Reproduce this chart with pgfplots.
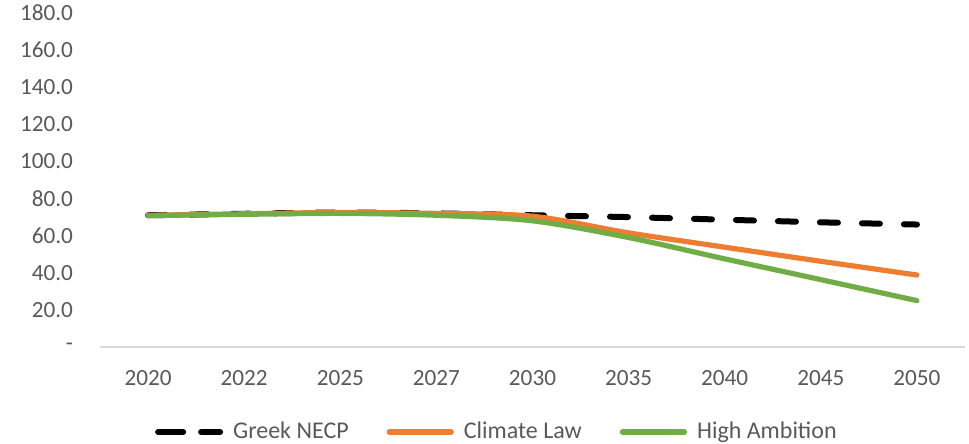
\documentclass[border=0pt]{standalone}
\usepackage{pgfplots}
\pgfplotsset{compat=1.18}
\usepackage{fontspec}
\setmainfont{Carlito}
\definecolor{cOrange}{HTML}{ED7D31}
\definecolor{cGreen}{HTML}{70AD47}
\definecolor{cText}{HTML}{595959}
\definecolor{cAxis}{HTML}{D9D9D9}
\begin{document}
\begin{tikzpicture}
\useasboundingbox (-50pt,-48.5pt) rectangle (434.5pt,173.5pt);
\begin{axis}[
  at={(0,0)}, anchor=south west,
  scale only axis, width=432.5pt, height=167pt,
  xmin=-0.5, xmax=8.5, ymin=0, ymax=180,
  xtick={0,...,8},
  xticklabels={2020,2022,2025,2027,2030,2035,2040,2045,2050},
  ytick={0,20,...,180},
  yticklabels={-,20.0,40.0,60.0,80.0,100.0,120.0,140.0,160.0,180.0},
  axis y line*=left,
  y axis line style={draw=none},
  axis x line*=bottom,
  x axis line style={draw=cAxis, line width=0.6pt, -},
  major tick length=0pt,
  tick style={draw=none},
  ticklabel style={font=\fontsize{11.6}{13}\selectfont, text=cText},
  yticklabel style={xshift=-10pt},
  xticklabel style={yshift=-8pt},
  clip=false,
  legend columns=3,
  legend style={draw=none, fill=none, at={(0.46,0)}, anchor=center, yshift=-42.5pt,
    font=\fontsize{12}{14}\selectfont, text=cText,
    /tikz/every even column/.append style={column sep=17pt},
    /tikz/every odd column/.append style={column sep=3pt}},
  legend image code/.code={\draw[#1] (0pt,0pt) -- (31pt,0pt);},
]
\addplot[black, line width=3pt, line cap=round, dash pattern=on 9pt off 12pt, smooth,
  legend image code/.code={\draw[black, line width=3pt, line cap=round, dash pattern=on 12.5pt off 9pt] (0pt,0pt) -- (31pt,0pt);}] coordinates {
(0,71) (1,71.8) (2,72.5) (3,72) (4,71) (5,70) (6,68.6) (7,67.2) (8,66)};
\addlegendentry{Greek NECP}
\addplot[cOrange, line width=2.6pt, line cap=round, smooth] coordinates {
(0,71) (1,71.8) (2,72.5) (3,72) (4,70.5) (5,61.5) (6,53.8) (7,46.2) (8,38.8)};
\addlegendentry{Climate Law}
\addplot[cGreen, line width=2.6pt, line cap=round, smooth] coordinates {
(0,70.8) (1,71.5) (2,72) (3,71) (4,68) (5,59) (6,47.5) (7,36.3) (8,25)};
\addlegendentry{High Ambition}
\end{axis}
\end{tikzpicture}
\end{document}
